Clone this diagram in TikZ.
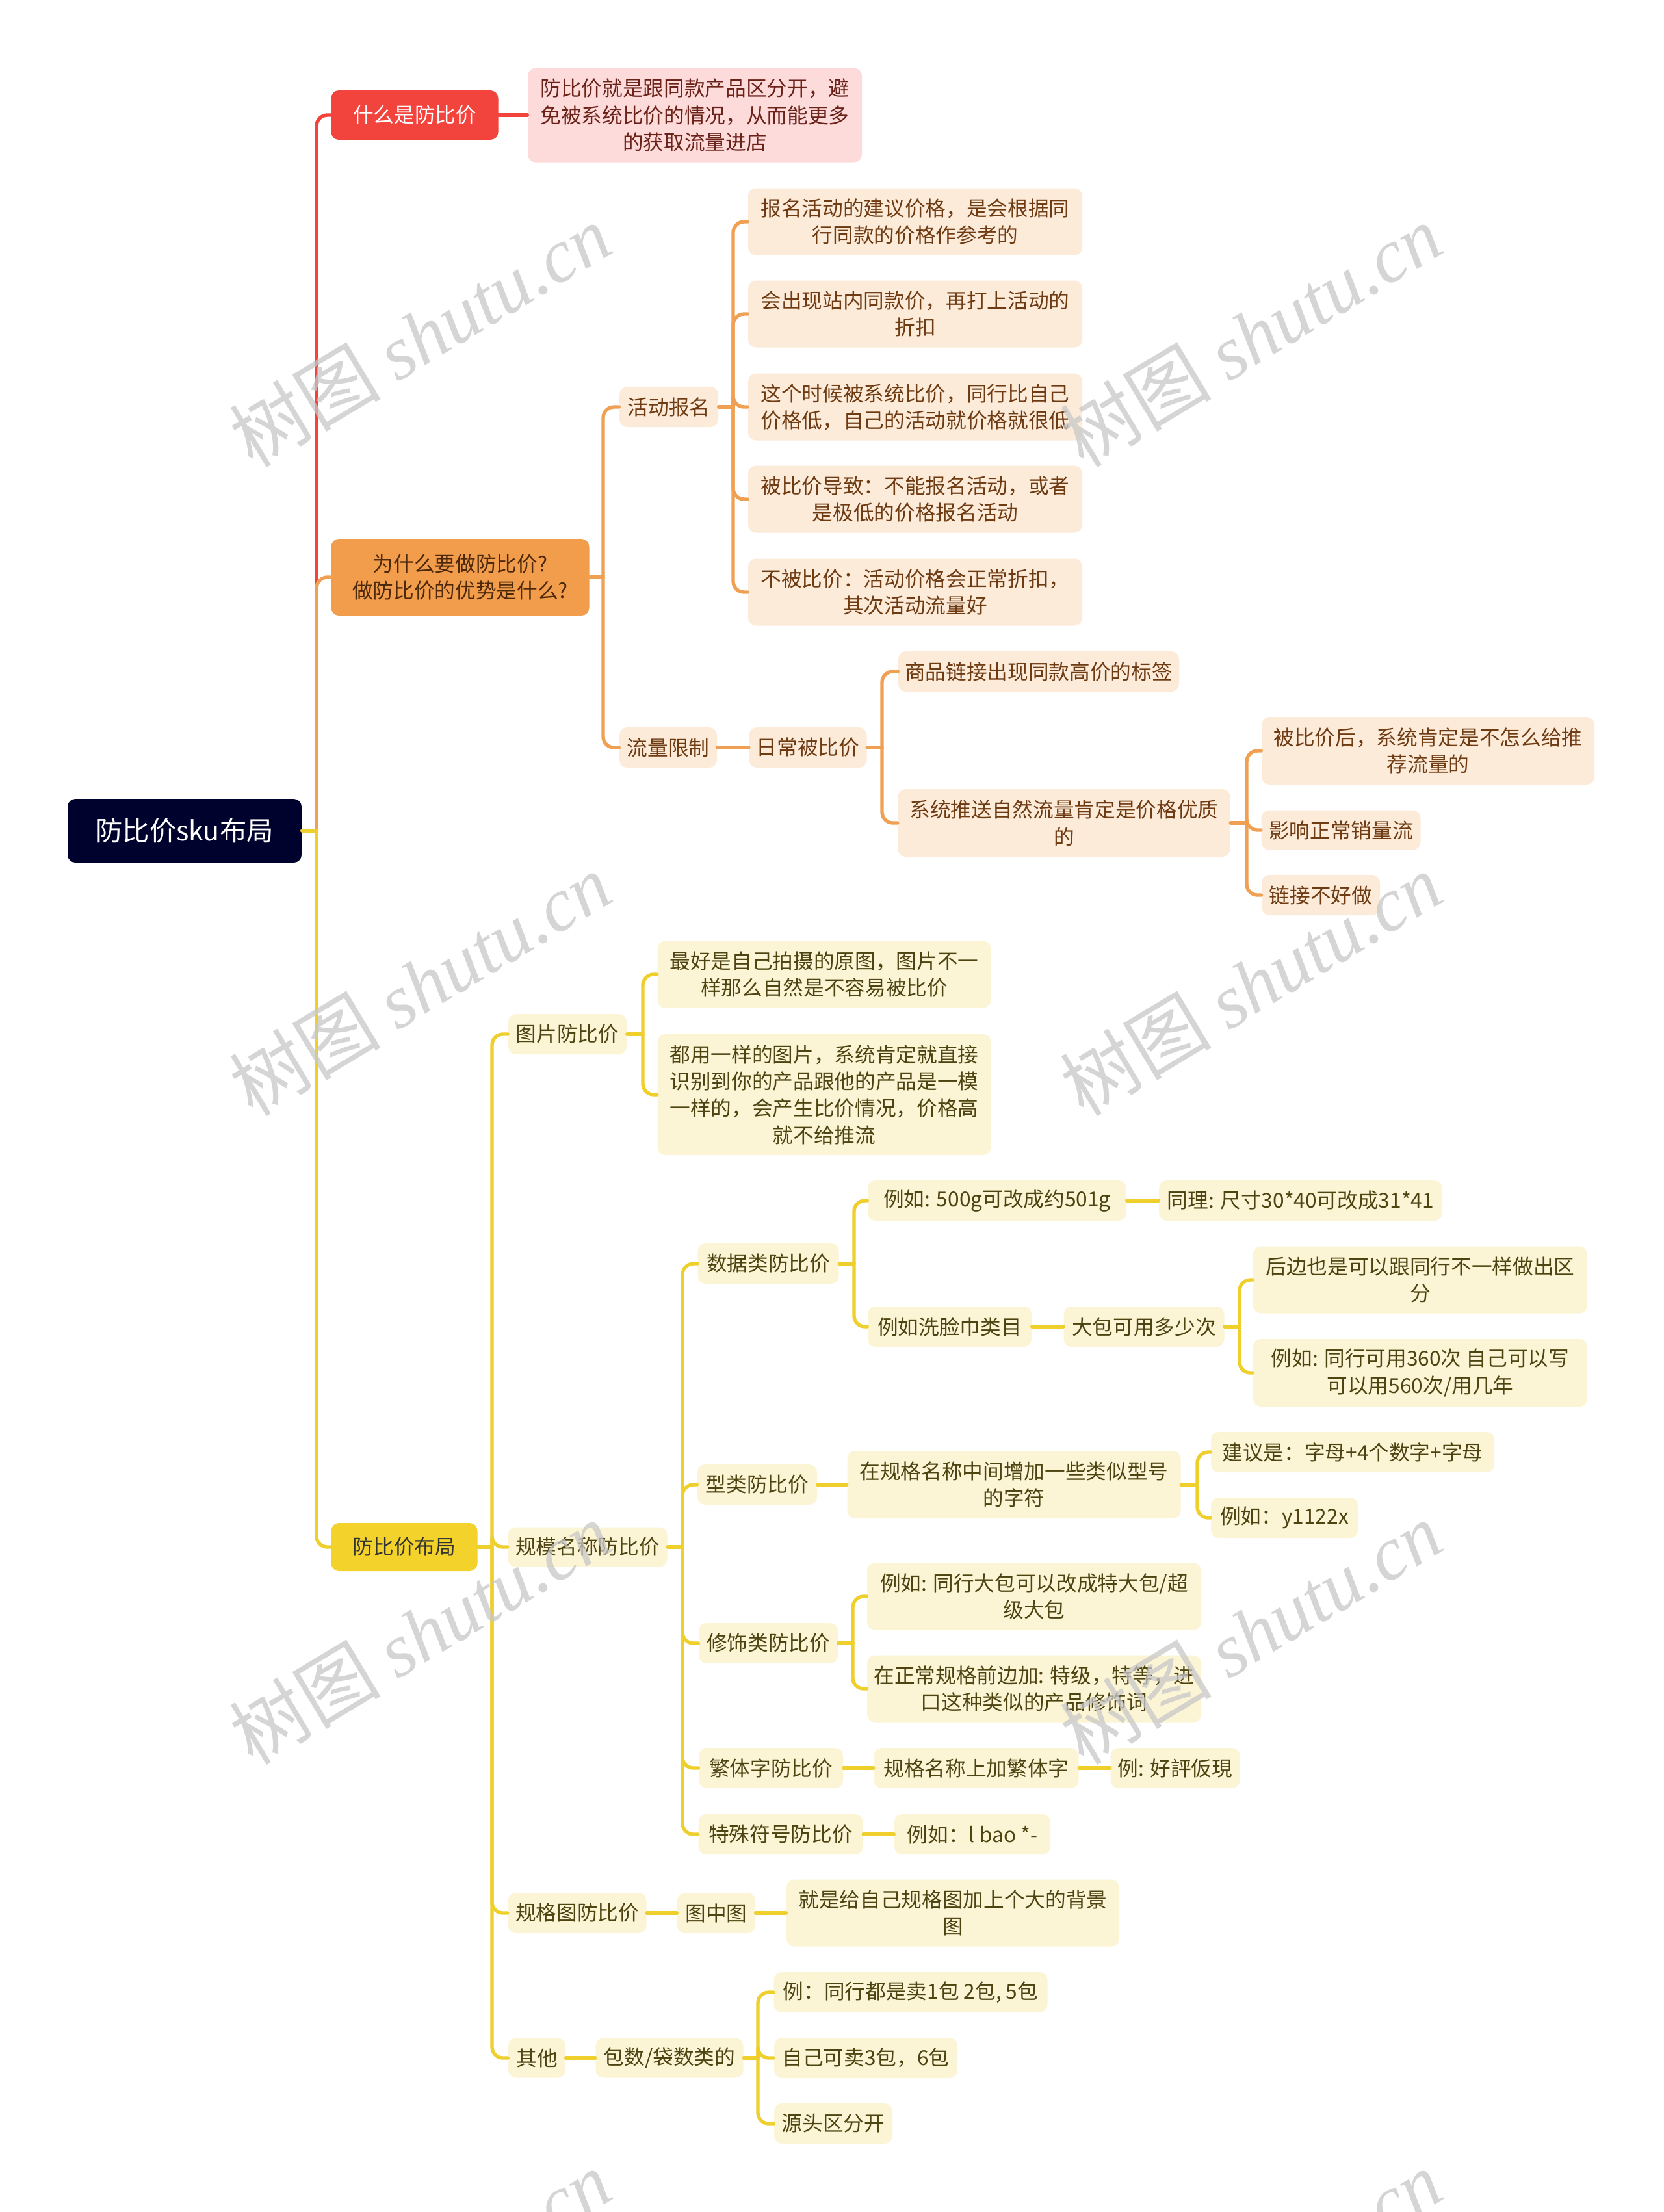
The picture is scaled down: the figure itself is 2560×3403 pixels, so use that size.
\documentclass[tikz,border=0pt]{standalone}
\usepackage{fontspec}
\setmainfont{Noto Sans CJK SC}
\newfontfamily\wmlat{Liberation Serif}
\newfontfamily\wmcjk{Noto Sans CJK SC}
\definecolor{rootc}{HTML}{00022E}
\definecolor{redc}{HTML}{F2433D}
\definecolor{pinkf}{HTML}{FDDBDB}
\definecolor{pinkt}{HTML}{6B2218}
\definecolor{orc}{HTML}{F29D4B}
\definecolor{orline}{HTML}{F0A052}
\definecolor{orf}{HTML}{FDEBDA}
\definecolor{ort}{HTML}{6E3B12}
\definecolor{yc}{HTML}{F2D22B}
\definecolor{yline}{HTML}{EFCF2C}
\definecolor{yf}{HTML}{FCF5D5}
\definecolor{yt}{HTML}{4E4412}
\tikzset{
  bw/.style={minimum width=#1*0.3pt},
  bh/.style={minimum height=#1*0.3pt},
  base/.style={rounded corners=3.6pt, inner sep=0pt, align=center, font=\fontsize{9.5}{12.4}\selectfont},
  rootbox/.style={base, fill=rootc, text=white, font=\fontsize{12.4}{14}\selectfont},
  redbox/.style={base, fill=redc, text=white},
  pinkbox/.style={base, fill=pinkf, text=pinkt},
  orbox/.style={base, fill=orc, text=ort!70!black},
  orleaf/.style={base, fill=orf, text=ort},
  ybox/.style={base, fill=yc, text=black!80},
  yleaf/.style={base, fill=yf, text=yt},
  conn/.style={line width=1.6pt, line cap=round, rounded corners=5pt},
  lr/.style={conn, draw=redc},
  lo/.style={conn, draw=orline},
  ly/.style={conn, draw=yline},
  wm/.style={text=black!22, opacity=0.75, rotate=31, inner sep=0pt, font=\fontsize{35}{40}\selectfont},
}
\begin{document}
\begin{tikzpicture}[x=0.3pt,y=-0.3pt]
\useasboundingbox (0,0) rectangle (2560,3403);
\fill[white] (0,0) rectangle (2560,3403);
\clip (0,0) rectangle (2560,3403);

% root and level 1
\node[rootbox, bw=360, bh=98] (root) at (284,1278) {防比价sku布局};
\node[redbox, bw=257, bh=76] (r1) at (638,177) {什么是防比价};
\node[pinkbox, bw=514, bh=145] (r1d) at (1069,177) {防比价就是跟同款产品区分开，避\\免被系统比价的情况，从而能更多\\的获取流量进店};
\node[orbox, bw=397, bh=118] (o1) at (708,888) {为什么要做防比价?\\做防比价的优势是什么?};
\node[ybox, bw=225, bh=74] (y1) at (622,2380) {防比价布局};

% orange subtree
\node[orleaf, bw=152, bh=62] (oa) at (1029,626) {活动报名};
\node[orleaf, bw=514, bh=103] (a1) at (1408,341) {报名活动的建议价格，是会根据同\\行同款的价格作参考的};
\node[orleaf, bw=514, bh=103] (a2) at (1408,483) {会出现站内同款价，再打上活动的\\折扣};
\node[orleaf, bw=514, bh=103] (a3) at (1408,626) {这个时候被系统比价，同行比自己\\价格低，自己的活动就价格就很低};
\node[orleaf, bw=514, bh=103] (a4) at (1408,768) {被比价导致：不能报名活动，或者\\是极低的价格报名活动};
\node[orleaf, bw=514, bh=103] (a5) at (1408,911) {不被比价：活动价格会正常折扣，\\其次活动流量好};
\node[orleaf, bw=150, bh=62] (ob) at (1028,1150) {流量限制};
\node[orleaf, bw=181, bh=62] (ob1) at (1243,1150) {日常被比价};
\node[orleaf, bw=432, bh=62] (ob2) at (1598,1033) {商品链接出现同款高价的标签};
\node[orleaf, bw=511, bh=104] (ob3) at (1637,1266) {系统推送自然流量肯定是价格优质\\的};
\node[orleaf, bw=512, bh=104] (ob4) at (2197,1155) {被比价后，系统肯定是不怎么给推\\荐流量的};
\node[orleaf, bw=245, bh=61] (ob5) at (2063,1277) {影响正常销量流};
\node[orleaf, bw=182, bh=62] (ob6) at (2032,1377) {链接不好做};

% yellow subtree
\node[yleaf, bw=182, bh=62] (ya) at (873,1591) {图片防比价};
\node[yleaf, bw=513, bh=103] (ya1) at (1268,1499) {最好是自己拍摄的原图，图片不一\\样那么自然是不容易被比价};
\node[yleaf, bw=513, bh=186] (ya2) at (1268,1684) {都用一样的图片，系统肯定就直接\\识别到你的产品跟他的产品是一模\\一样的，会产生比价情况，价格高\\就不给推流};
\node[yleaf, bw=245, bh=61] (yb) at (904,2380) {规模名称防比价};
\node[yleaf, bw=217, bh=62] (yd) at (1182,1944) {数据类防比价};
\node[yleaf, bw=398, bh=62] (yd1) at (1534,1847) {例如: 500g可改成约501g};
\node[yleaf, bw=436, bh=62] (yd2) at (2001,1847) {同理: 尺寸30*40可改成31*41};
\node[yleaf, bw=252, bh=62] (yd3) at (1461,2041) {例如洗脸巾类目};
\node[yleaf, bw=247, bh=62] (yd4) at (1760,2041) {大包可用多少次};
\node[yleaf, bw=514, bh=103] (yd5) at (2185,1969) {后边也是可以跟同行不一样做出区\\分};
\node[yleaf, bw=514, bh=104] (yd6) at (2185,2112) {例如: 同行可用360次 自己可以写\\可以用560次/用几年};
\node[yleaf, bw=184, bh=62] (yx) at (1165,2284) {型类防比价};
\node[yleaf, bw=513, bh=104] (yx1) at (1560,2284) {在规格名称中间增加一些类似型号\\的字符};
\node[yleaf, bw=436, bh=62] (yx2) at (2081,2234) {建议是：字母+4个数字+字母};
\node[yleaf, bw=226, bh=62] (yx3) at (1976,2335) {例如：y1122x};
\node[yleaf, bw=214, bh=62] (ys) at (1182,2528) {修饰类防比价};
\node[yleaf, bw=514, bh=103] (ys1) at (1591,2456) {例如: 同行大包可以改成特大包/超\\级大包};
\node[yleaf, bw=514, bh=103] (ys2) at (1591,2598) {在正常规格前边加: 特级，特等，进\\口这种类似的产品修饰词};
\node[yleaf, bw=222, bh=62] (yf) at (1186,2720) {繁体字防比价};
\node[yleaf, bw=315, bh=62] (yf1) at (1502,2720) {规格名称上加繁体字};
\node[yleaf, bw=199, bh=62] (yf2) at (1808,2720) {例: 好評仮現};
\node[yleaf, bw=253, bh=62] (yt) at (1201,2822) {特殊符号防比价};
\node[yleaf, bw=240, bh=62] (yt1) at (1496,2822) {例如：l bao *-};
\node[yleaf, bw=213, bh=62] (yg) at (888,2943) {规格图防比价};
\node[yleaf, bw=120, bh=62] (yg1) at (1102,2943) {图中图};
\node[yleaf, bw=512, bh=103] (yg2) at (1466,2943) {就是给自己规格图加上个大的背景\\图};
\node[yleaf, bw=88, bh=61] (yq) at (826,3166) {其他};
\node[yleaf, bw=227, bh=61] (yq1) at (1030,3166) {包数/袋数类的};
\node[yleaf, bw=421, bh=62] (yq2) at (1401,3065) {例：同行都是卖1包 2包, 5包};
\node[yleaf, bw=282, bh=62] (yq3) at (1332,3166) {自己可卖3包，6包};
\node[yleaf, bw=182, bh=62] (yq4) at (1282,3267) {源头区分开};

% junctions
\coordinate (jR) at (487,1278);
\coordinate (jO) at (928,888);
\coordinate (jA) at (1128,626);
\coordinate (jB) at (1357,1150);
\coordinate (jC) at (1918,1266);
\coordinate (jY) at (757,2380);
\coordinate (jP) at (989,1591);
\coordinate (jM) at (1050,2380);
\coordinate (jD) at (1314,1944);
\coordinate (jE) at (1907,2041);
\coordinate (jX) at (1842,2284);
\coordinate (jS) at (1312,2528);
\coordinate (jQ) at (1166,3166);

% root connectors
\draw[lr] (jR) |- (r1.west);
\draw[lr] (r1.east) -- (r1d.west);
\draw[lo] (jR) |- (o1.west);
\draw[ly] (root.east) -- (jR);
\draw[ly] (jR) |- (y1.west);

% orange connectors
\draw[lo] (o1.east) -- (jO);
\foreach \c in {oa,ob} \draw[lo] (jO) |- (\c.west);
\draw[lo] (oa.east) -- (jA);
\foreach \c in {a1,a2,a3,a4,a5} \draw[lo] (jA) |- (\c.west);
\draw[lo] (ob.east) -- (ob1.west);
\draw[lo] (ob1.east) -- (jB);
\foreach \c in {ob2,ob3} \draw[lo] (jB) |- (\c.west);
\draw[lo] (ob3.east) -- (jC);
\foreach \c in {ob4,ob5,ob6} \draw[lo] (jC) |- (\c.west);

% yellow connectors
\draw[ly] (y1.east) -- (jY);
\foreach \c in {ya,yb,yg,yq} \draw[ly] (jY) |- (\c.west);
\draw[ly] (ya.east) -- (jP);
\foreach \c in {ya1,ya2} \draw[ly] (jP) |- (\c.west);
\draw[ly] (yb.east) -- (jM);
\foreach \c in {yd,yx,ys,yf,yt} \draw[ly] (jM) |- (\c.west);
\draw[ly] (yd.east) -- (jD);
\foreach \c in {yd1,yd3} \draw[ly] (jD) |- (\c.west);
\draw[ly] (yd1.east) -- (yd2.west);
\draw[ly] (yd3.east) -- (yd4.west);
\draw[ly] (yd4.east) -- (jE);
\foreach \c in {yd5,yd6} \draw[ly] (jE) |- (\c.west);
\draw[ly] (yx.east) -- (yx1.west);
\draw[ly] (yx1.east) -- (jX);
\foreach \c in {yx2,yx3} \draw[ly] (jX) |- (\c.west);
\draw[ly] (ys.east) -- (jS);
\foreach \c in {ys1,ys2} \draw[ly] (jS) |- (\c.west);
\draw[ly] (yf.east) -- (yf1.west);
\draw[ly] (yf1.east) -- (yf2.west);
\draw[ly] (yt.east) -- (yt1.west);
\draw[ly] (yg.east) -- (yg1.west);
\draw[ly] (yg1.east) -- (yg2.west);
\draw[ly] (yq.east) -- (yq1.west);
\draw[ly] (yq1.east) -- (jQ);
\foreach \c in {yq2,yq3,yq4} \draw[ly] (jQ) |- (\c.west);

% watermarks
\foreach \wx/\wy [count=\i] in {646/516,1924/516,646/1514,1924/1514,646/2512,1924/2512,646/3510,1924/3510}
  \node[wm] (wm\i) at (\wx,\wy) {\wmcjk 树图 \wmlat\itshape shutu.cn};
\end{tikzpicture}
\end{document}
